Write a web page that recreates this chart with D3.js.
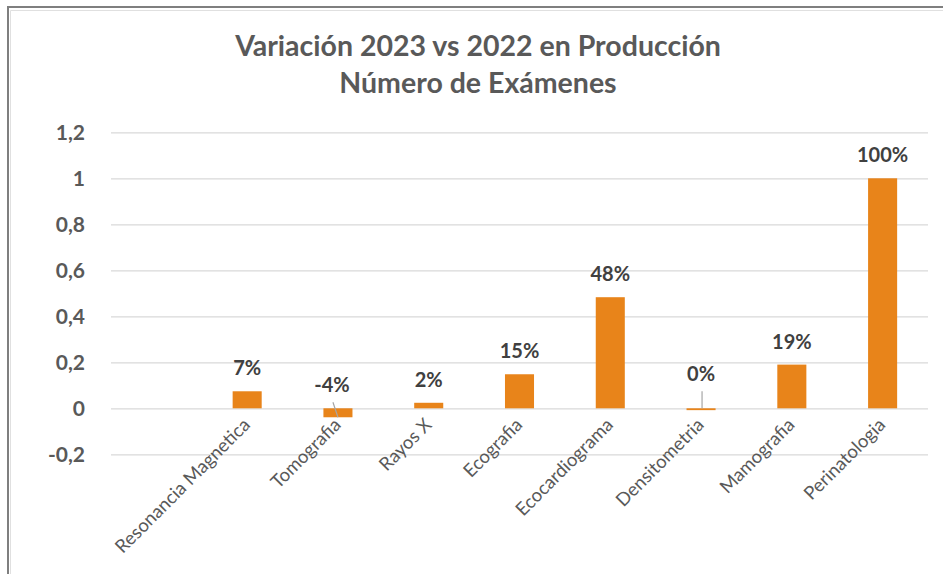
<!DOCTYPE html>
<html>
<head>
<meta charset="utf-8">
<script src="https://cdn.jsdelivr.net/npm/d3@7"></script>
<style>
  body { margin: 0; background: #fff; }
  svg { display: block; }
</style>
</head>
<body>
<div id="chart"></div>
<script>
// categories (first slot is empty in the original sheet)
var categories = ['', 'Resonancia Magnetica', 'Tomografia', 'Rayos X', 'Ecografia',
  'Ecocardiograma', 'Densitometria', 'Mamografia', 'Perinatologia'];
var values = [null, 0.074, -0.039, 0.024, 0.148, 0.483, -0.008, 0.19, 1.0];
var valueLabels = ['', '7%', '-4%', '2%', '15%', '48%', '0%', '19%', '100%'];
var yTicks = [-0.2, 0, 0.2, 0.4, 0.6, 0.8, 1, 1.2];
var yTickLabels = ['-0,2', '0', '0,2', '0,4', '0,6', '0,8', '1', '1,2'];
var titleLines = ['Variación 2023 vs 2022 en Producción', 'Número de Exámenes'];

var w = 943;
var h = 574;
var font = 'Lato, "Open Sans", sans-serif';

var svg = d3.select('#chart').append('svg')
  .attr('width', w)
  .attr('height', h);

svg.append('rect').attr('width', w).attr('height', h).attr('fill', '#fff');

// frame (only the top/left edges show inside the crop)
svg.append('path').attr('d', 'M8,' + h + 'V7H' + w)
  .attr('fill', 'none').attr('stroke', '#7f7f7f').attr('stroke-width', 2);
svg.append('path').attr('d', 'M10.5,' + h + 'V10.5H' + w)
  .attr('fill', 'none').attr('stroke', '#e0e0e0').attr('stroke-width', 1);

var x = d3.scaleBand().domain(d3.range(categories.length))
  .range([111, 928]).paddingInner(0.68).paddingOuter(0.34);
var y = d3.scaleLinear().domain([-0.2, 1.2]).range([454.3, 132.3]);

// title
svg.append('text')
  .attr('x', 478).attr('text-anchor', 'middle')
  .attr('font-family', font).attr('font-weight', 'bold')
  .attr('font-size', 28.5).attr('fill', '#595959')
  .selectAll('tspan').data(titleLines).enter().append('tspan')
  .attr('x', 478).attr('y', function (d, i) {return 56 + i * 37;})
  .text(function (d) {return d;});

// gridlines + y labels
var yAxis = d3.axisLeft(y).tickValues(yTicks)
  .tickSize(-(928 - 111)).tickPadding(26)
  .tickFormat(function (d, i) {return yTickLabels[i];});

var gy = svg.append('g').attr('transform', 'translate(111,0)').call(yAxis);
gy.select('.domain').remove();
gy.selectAll('line').attr('stroke', '#d9d9d9').attr('stroke-width', 1.3);
gy.selectAll('text').attr('font-family', font).attr('font-weight', 'bold')
  .attr('font-size', 21).attr('fill', '#595959');

// bars
svg.append('g').selectAll('rect')
  .data(values).enter()
  .filter(function (d) {return d !== null;})
  .append('rect')
  .attr('x', function (d) {return x(values.indexOf(d));})
  .attr('y', function (d) {return Math.min(y(d), y(0));})
  .attr('width', x.bandwidth())
  .attr('height', function (d) {return Math.max(Math.abs(y(d) - y(0)), 1.5);})
  .attr('fill', '#e8841a');

// data labels (two were dragged by hand in the original)
var nudge = { 2: [-6, 0], 6: [0, -11] };
var labelPos = function (i) {
  var n = nudge[i] || [0, 0];
  return [x(i) + x.bandwidth() / 2 + n[0], y(Math.max(values[i], 0)) - 16 + n[1]];
};

svg.append('g').selectAll('text')
  .data(valueLabels).enter()
  .filter(function (d) {return d !== '';})
  .append('text')
  .attr('x', function (d) {return labelPos(valueLabels.indexOf(d))[0];})
  .attr('y', function (d) {return labelPos(valueLabels.indexOf(d))[1];})
  .attr('text-anchor', 'middle')
  .attr('font-family', font).attr('font-weight', 'bold')
  .attr('font-size', 20).attr('fill', '#404040')
  .text(function (d) {return d;});

// leader lines for the moved labels
svg.append('line')
  .attr('x1', labelPos(2)[0] + 1).attr('y1', labelPos(2)[1] + 10)
  .attr('x2', x(2) + x.bandwidth() / 2).attr('y2', y(values[2]))
  .attr('stroke', '#a6a6a6').attr('stroke-width', 1.2);
svg.append('line')
  .attr('x1', labelPos(6)[0] + 1).attr('y1', labelPos(6)[1] + 10)
  .attr('x2', labelPos(6)[0] + 1).attr('y2', y(0))
  .attr('stroke', '#a6a6a6').attr('stroke-width', 1.2);

// category labels, rotated
svg.append('g').selectAll('text')
  .data(categories).enter()
  .append('text')
  .attr('transform', function (d, i) {
    return 'translate(' + (x(i) + x.bandwidth() / 2 + 4) + ',426) rotate(-45)';
  })
  .attr('text-anchor', 'end')
  .attr('font-family', font).attr('font-size', 18.5).attr('fill', '#595959')
  .text(function (d) {return d;});
</script>
</body>
</html>
